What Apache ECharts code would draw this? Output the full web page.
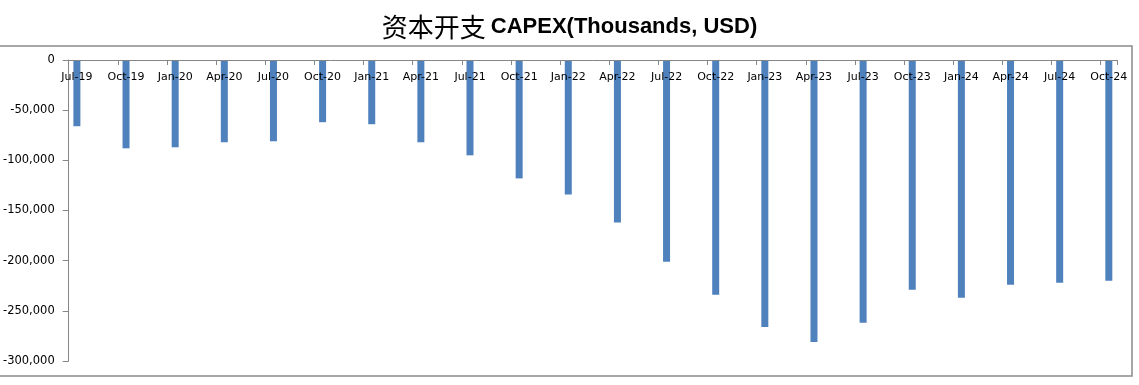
<!DOCTYPE html>
<html>
<head>
<meta charset="utf-8">
<script src="https://cdn.jsdelivr.net/npm/echarts@6/dist/echarts.min.js"></script>
<style>
html,body{margin:0;padding:0;background:#fff;}
#chart{width:1139px;height:385px;}
</style>
</head>
<body>
<div id="chart"></div>
<script>
// Quarter labels (as printed on the axis)
const quarters = ['Jul-19','Oct-19','Jan-20','Apr-20','Jul-20','Oct-20','Jan-21','Apr-21','Jul-21','Oct-21','Jan-22','Apr-22','Jul-22','Oct-22','Jan-23','Apr-23','Jul-23','Oct-23','Jan-24','Apr-24','Jul-24','Oct-24'];
// CAPEX, thousands USD
const capex = [-66000,-88000,-87000,-82000,-81000,-62000,-64000,-82000,-95000,-118000,-134000,-162000,-201000,-234000,-266000,-281000,-262000,-229000,-237000,-224000,-222000,-220000];
// Value axis tick settings
const yMin = -300000, yMax = 0, yStep = 50000;

// The original uses a monthly date axis: each quarter occupies one month slot,
// followed by two empty month slots.
const months = [];
const monthValues = [];
quarters.forEach((q, i) => {
  months.push(q);
  monthValues.push(capex[i]);
  if (i < quarters.length - 1) {
    months.push(q + '#1', q + '#2');
    monthValues.push(null, null);
  }
});

const chart = echarts.init(document.getElementById('chart'), null, {renderer: 'canvas'});
const axisGray = '#868686';
chart.setOption({
  animation: false,
  backgroundColor: '#fff',
  title: {
    text: '{cn|资本开支} {en|CAPEX(Thousands, USD)}',
    left: 'center',
    top: 9,
    textStyle: {
      rich: {
        cn: {fontFamily: '"Noto Sans CJK SC", sans-serif', fontSize: 26, fontWeight: 'normal', color: '#000'},
        en: {fontFamily: '"Liberation Sans", Arial, sans-serif', fontSize: 22, fontWeight: 'bold', color: '#000'}
      }
    }
  },
  graphic: [{
    type: 'rect',
    shape: {x: -2, y: 46, width: 1134, height: 330},
    style: {fill: 'none', stroke: '#8a8a8a', lineWidth: 1.5},
    silent: true,
    z: -1
  }],
  grid: {left: 66, right: 22, top: 60, bottom: 24, containLabel: false},
  xAxis: {
    type: 'category',
    position: 'top',
    z: 10,
    data: months,
    boundaryGap: true,
    axisLine: {onZero: false, lineStyle: {color: axisGray, width: 1}},
    axisTick: {show: true, inside: true, interval: 2, length: 5, alignWithLabel: false, lineStyle: {color: axisGray}},
    axisLabel: {
      inside: true,
      interval: 2,
      margin: 12,
      color: '#000',
      fontFamily: '"DejaVu Sans", sans-serif',
      fontSize: 11
    },
    splitLine: {show: false}
  },
  yAxis: {
    type: 'value',
    min: yMin,
    max: yMax,
    interval: yStep,
    axisLine: {show: true, lineStyle: {color: axisGray, width: 1}},
    axisTick: {show: true, length: 6, lineStyle: {color: axisGray}},
    axisLabel: {
      margin: 14,
      color: '#000',
      fontFamily: '"DejaVu Sans", sans-serif',
      fontSize: 11.5,
      formatter: v => v.toLocaleString('en-US')
    },
    splitLine: {show: false}
  },
  series: [{
    type: 'bar',
    data: monthValues,
    barWidth: 7,
    itemStyle: {color: '#4F81BD'},
    z: 1
  }]
});
</script>
</body>
</html>
